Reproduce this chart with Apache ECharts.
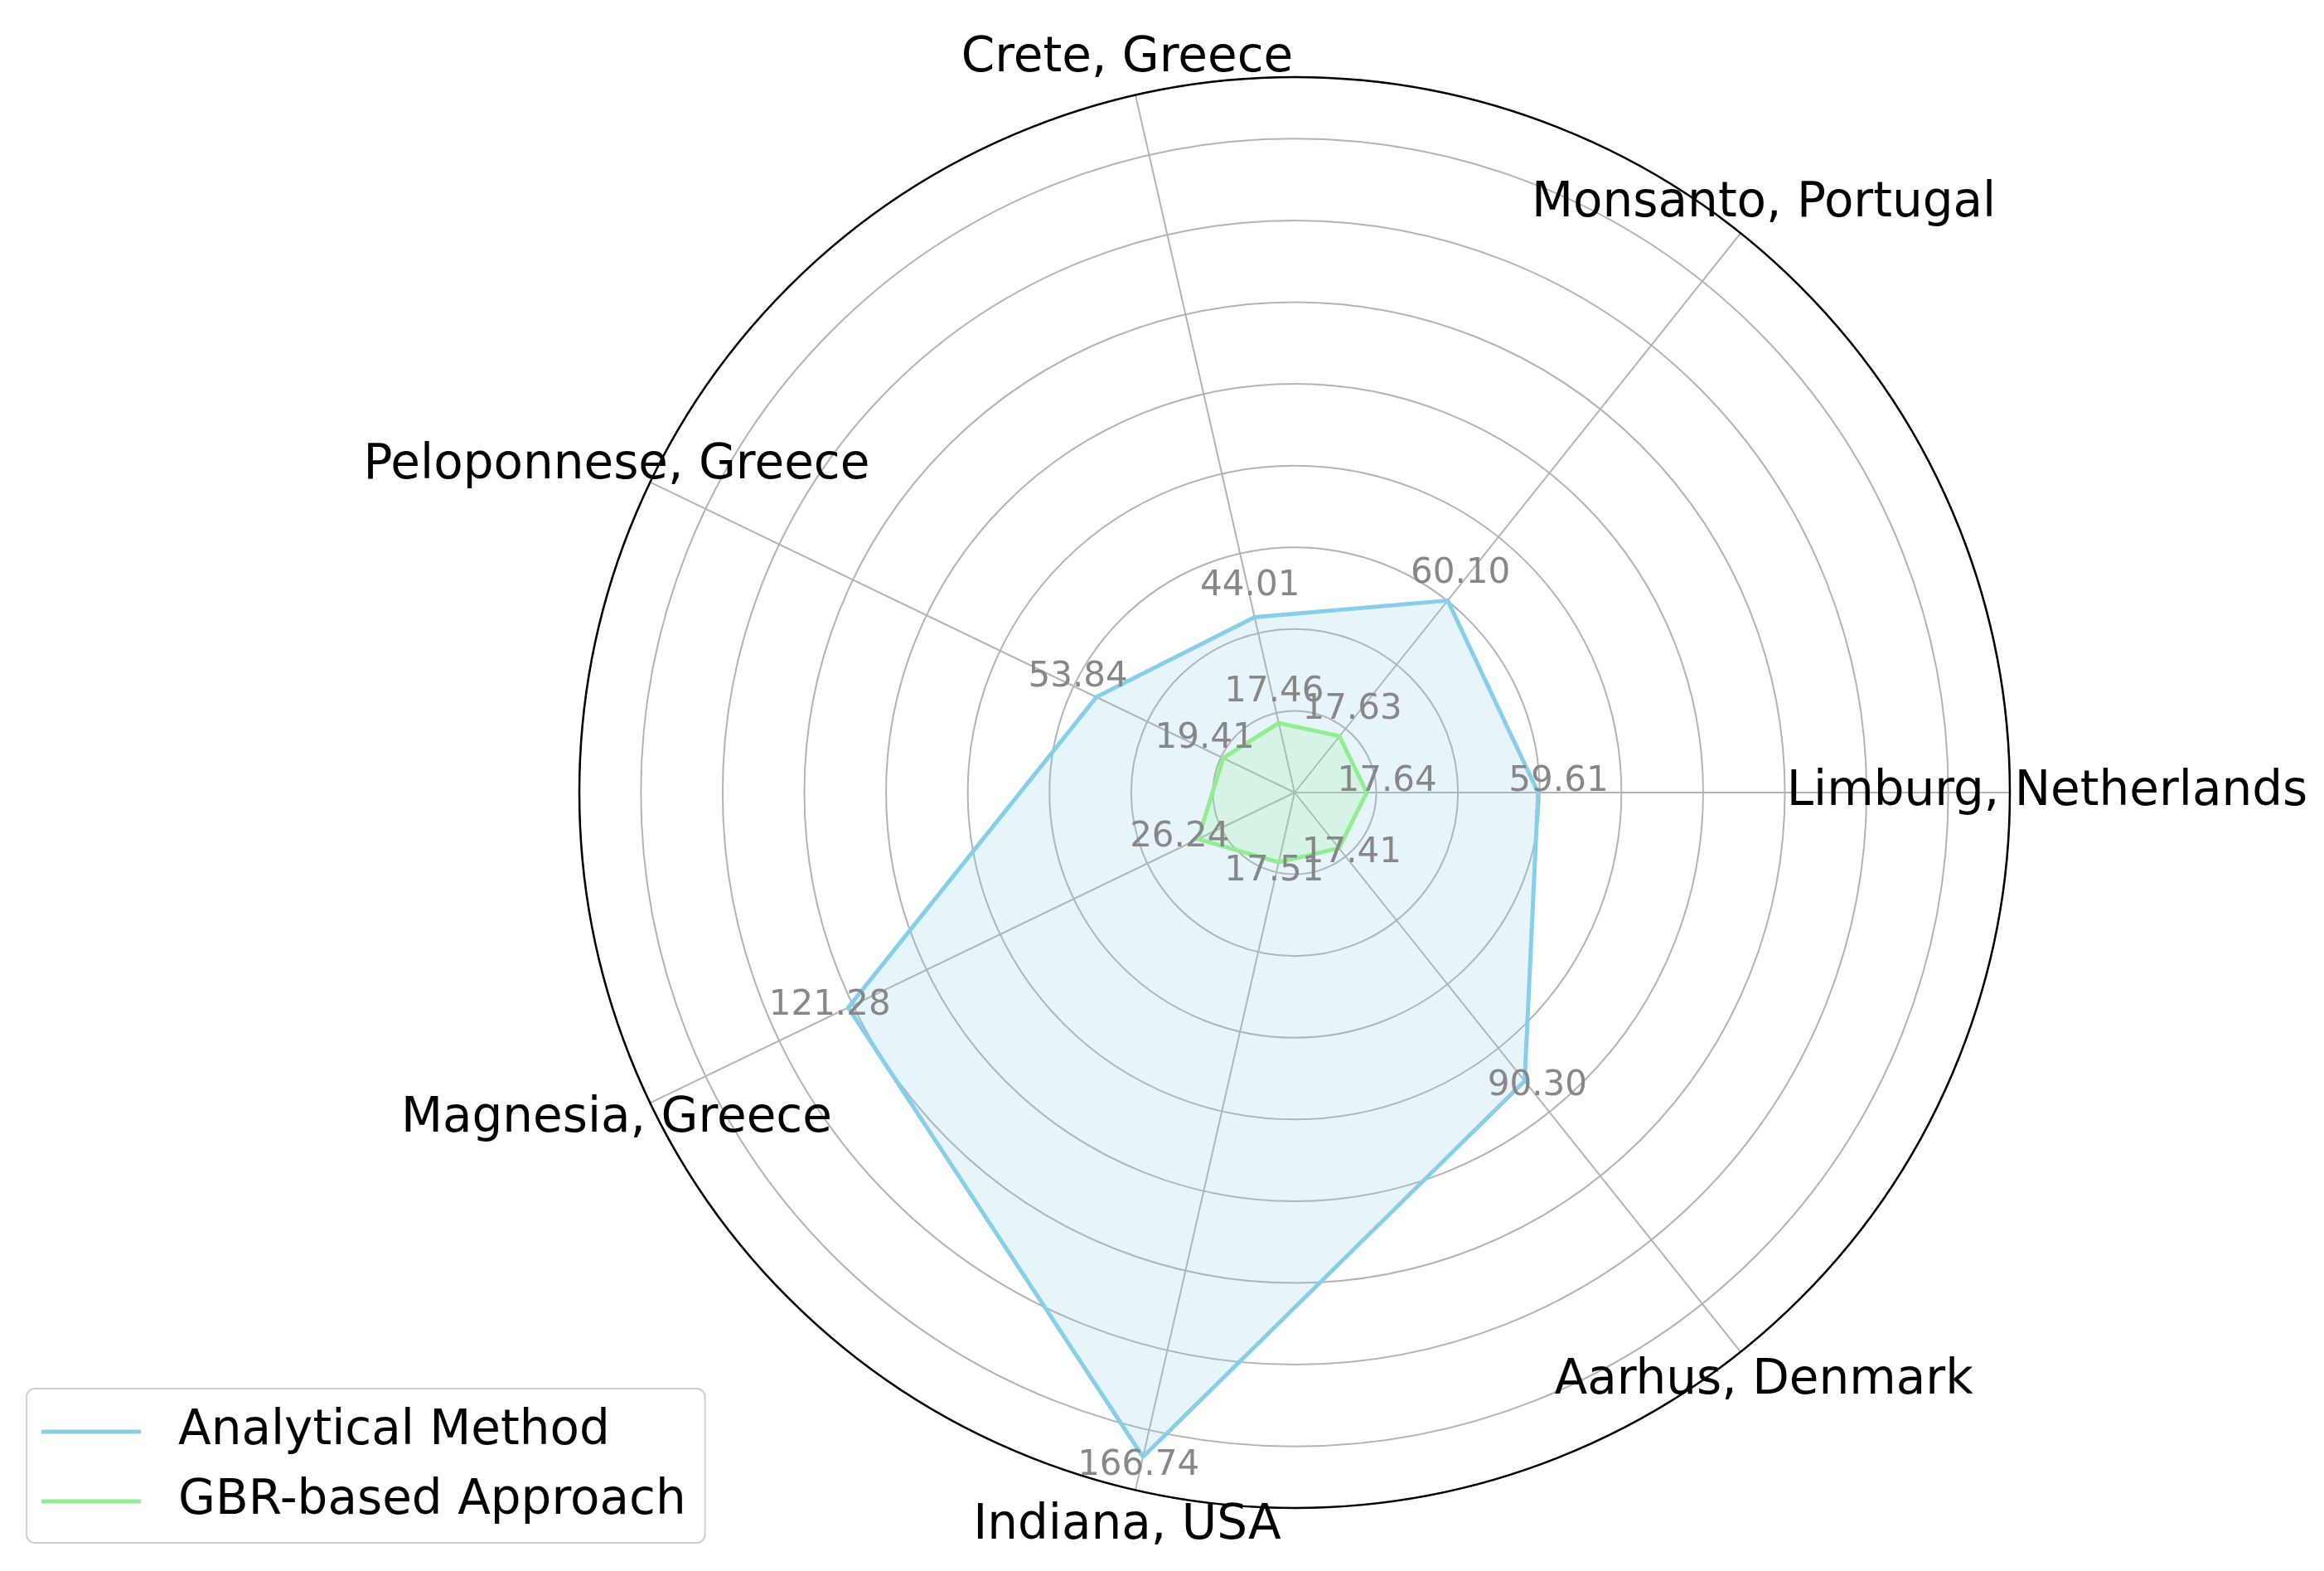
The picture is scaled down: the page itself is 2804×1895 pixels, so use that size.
<!DOCTYPE html>
<html><head><meta charset="utf-8">
<script src="https://cdn.jsdelivr.net/npm/echarts@6/dist/echarts.min.js"></script>
<style>html,body{margin:0;padding:0;background:#fff}#c{width:2804px;height:1895px}</style>
</head><body><div id="c"></div>
<script>
const categories = ['Limburg, Netherlands', 'Monsanto, Portugal', 'Crete, Greece', 'Peloponnese, Greece', 'Magnesia, Greece', 'Indiana, USA', 'Aarhus, Denmark'];
const seriesNames = ['Analytical Method', 'GBR-based Approach'];
const analytical = [59.61, 60.10, 44.01, 53.84, 121.28, 166.74, 90.30];
const gbr = [17.64, 17.63, 17.46, 19.41, 26.24, 17.51, 17.41];
const ringStep = 20;

const FONT = 'DejaVu Sans';
const rMax = Math.max(...analytical, ...gbr) * 1.05;
const step = 360 / categories.length;
const labelOffset = 5;
const colors = ['#87CEEB', '#90EE90'];

function closed(vals) {
  const d = vals.map((v, i) => [v, i * step]);
  d.push([vals[0], 360]);
  return d;
}
function labelData(vals) {
  return vals.map((v, i) => [v + labelOffset, i * step, v]);
}
function hiddenAxis(extra) {
  return Object.assign({
    axisLine: {show: false}, axisTick: {show: false}, axisLabel: {show: false}, splitLine: {show: false}
  }, extra);
}

const chart = echarts.init(document.getElementById('c'), null, {renderer: 'canvas'});
const valueLabelSeries = (vals) => ({
  type: 'scatter', coordinateSystem: 'polar', polarIndex: 0, silent: true, clip: false,
  symbolSize: 0, itemStyle: {color: 'rgba(0,0,0,0)', opacity: 1}, z: 20,
  data: labelData(vals),
  label: {
    show: true, position: 'top', distance: 0, offset: [0, 8],
    formatter: p => p.value[2].toFixed(2),
    color: '#878787', fontSize: 42, fontFamily: FONT
  }
});
const lineSeries = (name, vals, color, z) => ({
  name, type: 'line', coordinateSystem: 'polar', polarIndex: 0, clip: false,
  symbol: 'none', z,
  data: closed(vals),
  lineStyle: {color, width: 5},
  itemStyle: {color},
  areaStyle: {color, opacity: 0.2}
});

chart.setOption({
  backgroundColor: '#ffffff',
  animation: false,
  textStyle: {fontFamily: FONT},
  polar: [
    {center: [1562, 956], radius: 863},
    {center: [1562, 956], radius: 908}
  ],
  angleAxis: [
    {
      polarIndex: 0, type: 'value', min: 0, max: 360, interval: step,
      startAngle: 0, clockwise: false, z: 1,
      axisLine: {show: true, lineStyle: {color: '#000000', width: 2.5}},
      axisTick: {show: false}, axisLabel: {show: false},
      splitLine: {show: true, lineStyle: {color: '#b3b3b3', width: 2}}
    },
    hiddenAxis({polarIndex: 1, type: 'value', min: 0, max: 360, startAngle: 0, clockwise: false})
  ],
  radiusAxis: [
    {
      polarIndex: 0, type: 'value', min: 0, max: rMax, interval: ringStep, z: 0,
      axisLine: {show: false}, axisTick: {show: false}, axisLabel: {show: false},
      splitLine: {show: true, lineStyle: {color: '#b3b3b3', width: 2}}
    },
    hiddenAxis({polarIndex: 1, type: 'value', min: 0, max: 1})
  ],
  legend: {
    data: seriesNames, orient: 'vertical', left: 32, top: 1675, icon: 'rect',
    padding: [23, 23, 21, 18], itemWidth: 120, itemHeight: 5, itemGap: 26,
    borderColor: '#cfcfcf', borderWidth: 2, borderRadius: 10, backgroundColor: '#ffffff',
    textStyle: {fontSize: 58, fontFamily: FONT, color: '#000000', lineHeight: 58, padding: [0, 0, 0, 40]}
  },
  series: [
    lineSeries(seriesNames[0], analytical, colors[0], 3),
    lineSeries(seriesNames[1], gbr, colors[1], 4),
    valueLabelSeries(analytical),
    valueLabelSeries(gbr),
    {
      type: 'scatter', coordinateSystem: 'polar', polarIndex: 1, silent: true, clip: false,
      symbolSize: 0, itemStyle: {color: 'rgba(0,0,0,0)', opacity: 1}, z: 25,
      data: categories.map((c, i) => [1, i * step, c]),
      label: {
        show: true, position: 'inside',
        formatter: p => p.value[2],
        color: '#000000', fontSize: 58, fontFamily: FONT
      }
    }
  ]
});
</script>
</body></html>
